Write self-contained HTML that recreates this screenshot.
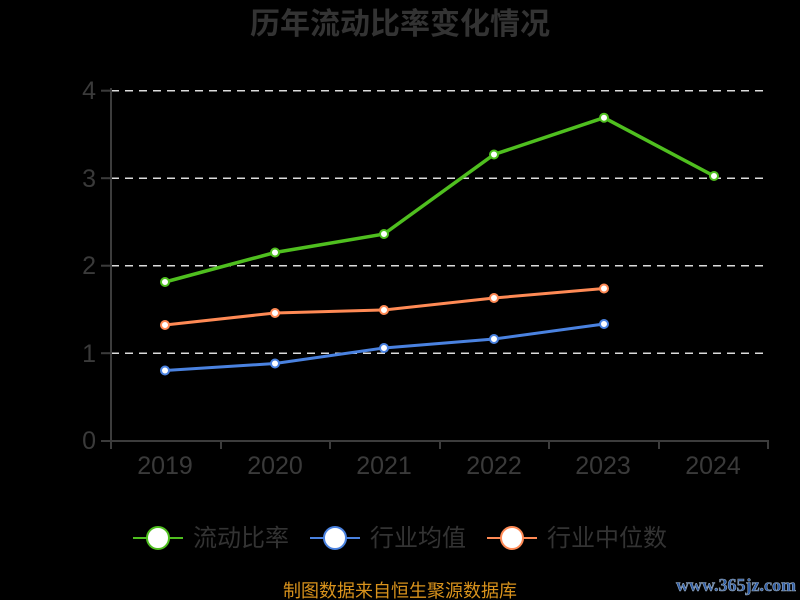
<!DOCTYPE html>
<html><head><meta charset="utf-8"><style>
html,body{margin:0;padding:0;background:#000;}
svg{display:block;}
</style></head><body>
<svg width="800" height="600" viewBox="0 0 800 600" xmlns="http://www.w3.org/2000/svg">
<rect width="800" height="600" fill="#000"/>
<text x="400" y="34" text-anchor="middle" font-family="Liberation Sans, Noto Sans CJK SC, sans-serif" font-size="30" font-weight="bold" fill="#333">历年流动比率变化情况</text>
<!-- grid -->
<g stroke="#dcdcdc" stroke-width="1.5" stroke-dasharray="8,6">
<line x1="111" y1="90.7" x2="768" y2="90.7"/>
<line x1="111" y1="178.2" x2="768" y2="178.2"/>
<line x1="111" y1="265.7" x2="768" y2="265.7"/>
<line x1="111" y1="353.2" x2="768" y2="353.2"/>
</g>
<!-- axes -->
<g stroke="#3c3c3c" stroke-width="2">
<line x1="111" y1="88" x2="111" y2="449"/>
<line x1="110" y1="441" x2="769" y2="441"/>
<line x1="101" y1="90.7" x2="111" y2="90.7"/>
<line x1="101" y1="178.2" x2="111" y2="178.2"/>
<line x1="101" y1="265.7" x2="111" y2="265.7"/>
<line x1="101" y1="353.2" x2="111" y2="353.2"/>
<line x1="101" y1="441" x2="111" y2="441"/>
<line x1="221" y1="441" x2="221" y2="449"/>
<line x1="330" y1="441" x2="330" y2="449"/>
<line x1="440" y1="441" x2="440" y2="449"/>
<line x1="549" y1="441" x2="549" y2="449"/>
<line x1="659" y1="441" x2="659" y2="449"/>
<line x1="768" y1="441" x2="768" y2="449"/>
</g>
<g font-family="Liberation Sans, sans-serif" font-size="25" fill="#3a3a3a" text-anchor="end">
<text x="96" y="99">4</text>
<text x="96" y="187">3</text>
<text x="96" y="274">2</text>
<text x="96" y="362">1</text>
<text x="96" y="449">0</text>
</g>
<g font-family="Liberation Sans, sans-serif" font-size="25" fill="#3a3a3a" text-anchor="middle">
<text x="165" y="474">2019</text>
<text x="275" y="474">2020</text>
<text x="384" y="474">2021</text>
<text x="494" y="474">2022</text>
<text x="603" y="474">2023</text>
<text x="713" y="474">2024</text>
</g>
<!-- series -->
<polyline fill="none" stroke="#ff8a55" stroke-width="3" points="165,325 275,313 384,310 494,298 604,288.5"/>
<polyline fill="none" stroke="#4a82e0" stroke-width="3" points="165,370.5 275,363.5 384,348 494,339 604,324"/>
<polyline fill="none" stroke="#4fbf1f" stroke-width="3.5" points="165,282 275,252.5 384,234 494,154.5 604,117.7 714,176"/>
<g fill="#fff" stroke="#ff8a55" stroke-width="2">
<circle cx="165" cy="325" r="4"/><circle cx="275" cy="313" r="4"/><circle cx="384" cy="310" r="4"/><circle cx="494" cy="298" r="4"/><circle cx="604" cy="288.5" r="4"/>
</g>
<g fill="#fff" stroke="#4a82e0" stroke-width="2">
<circle cx="165" cy="370.5" r="4"/><circle cx="275" cy="363.5" r="4"/><circle cx="384" cy="348" r="4"/><circle cx="494" cy="339" r="4"/><circle cx="604" cy="324" r="4"/>
</g>
<g fill="#fff" stroke="#4fbf1f" stroke-width="2">
<circle cx="165" cy="282" r="4"/><circle cx="275" cy="252.5" r="4"/><circle cx="384" cy="234" r="4"/><circle cx="494" cy="154.5" r="4"/><circle cx="604" cy="117.7" r="4"/><circle cx="714" cy="176" r="4"/>
</g>
<!-- legend -->
<g font-family="Liberation Sans, Noto Sans CJK SC, sans-serif" font-size="24" fill="#333">
<line x1="133" y1="538" x2="183" y2="538" stroke="#4fbf1f" stroke-width="2"/>
<circle cx="158" cy="538" r="11" fill="#fff" stroke="#4fbf1f" stroke-width="2"/>
<text x="193" y="546">流动比率</text>
<line x1="310" y1="538" x2="360" y2="538" stroke="#4a82e0" stroke-width="2"/>
<circle cx="335" cy="538" r="11" fill="#fff" stroke="#4a82e0" stroke-width="2"/>
<text x="370" y="546">行业均值</text>
<line x1="487" y1="538" x2="537" y2="538" stroke="#ff8a55" stroke-width="2"/>
<circle cx="512" cy="538" r="11" fill="#fff" stroke="#ff8a55" stroke-width="2"/>
<text x="547" y="546">行业中位数</text>
</g>
<text x="400" y="597" text-anchor="middle" font-family="Liberation Sans, Noto Sans CJK SC, sans-serif" font-size="18" fill="#d8921c">制图数据来自恒生聚源数据库</text>
<text x="736" y="591" text-anchor="middle" font-family="Liberation Serif, serif" font-size="18" font-weight="bold" fill="#2e5da8" stroke="#9ab" stroke-width="0.6">www.365jz.com</text>
</svg>
</body></html>
